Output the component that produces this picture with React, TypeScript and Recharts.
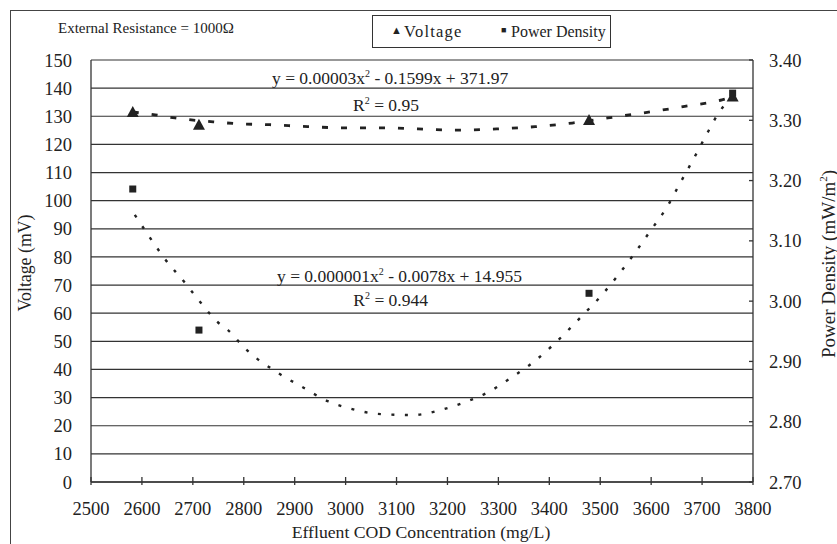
import React from 'react';
import { ComposedChart, XAxis, YAxis, CartesianGrid, Scatter, Line } from 'recharts';

// measured points
const codX = [2582, 2712, 3478, 3760];
const voltage = [131.5, 127, 128.7, 137];
const powerDensity = [3.186, 2.952, 3.013, 3.345];

// trendlines
const voltTrendX = [2582, 2626, 2665, 2740, 2793, 2851, 2926, 2999, 3073, 3142, 3219, 3297, 3372, 3445, 3515, 3592, 3666, 3739, 3760];
const voltTrend = [131.5, 130.5, 129.4, 128.0, 127.3, 127.0, 126.3, 125.9, 125.9, 125.5, 125.1, 125.5, 126.3, 127.6, 129.4, 131.4, 133.5, 135.8, 136.9];
const powerTrendX = [2586, 2616, 2647, 2683, 2714, 2749, 2769, 2802, 2867, 2914, 2965, 3013, 3062, 3132, 3185, 3230, 3280, 3327, 3372, 3407, 3466, 3503, 3535, 3568, 3598, 3631, 3657, 3682, 3706, 3731, 3761];
const powerTrend = [3.143, 3.105, 3.068, 3.032, 2.999, 2.965, 2.952, 2.922, 2.881, 2.858, 2.834, 2.821, 2.813, 2.811, 2.819, 2.831, 2.849, 2.874, 2.901, 2.927, 2.977, 3.010, 3.043, 3.080, 3.116, 3.156, 3.196, 3.234, 3.272, 3.310, 3.342];

const xTicks = [2500, 2600, 2700, 2800, 2900, 3000, 3100, 3200, 3300, 3400, 3500, 3600, 3700, 3800];
const leftTicks = [0, 10, 20, 30, 40, 50, 60, 70, 80, 90, 100, 110, 120, 130, 140, 150];
const rightTicks = [2.7, 2.8, 2.9, 3.0, 3.1, 3.2, 3.3, 3.4];

const FONT = "'Liberation Serif', Tinos, 'Times New Roman', Times, 'DejaVu Serif', 'Noto Serif', serif";
const INK = '#222';
const TICK_FS = 18.5;

const voltData = codX.map((x, i) => ({ x, y: voltage[i] }));
const powerData = codX.map((x, i) => ({ x, y: powerDensity[i] }));
const voltTrendData = voltTrendX.map((x, i) => ({ x, y: voltTrend[i] }));
const powerTrendData = powerTrendX.map((x, i) => ({ x, y: powerTrend[i] }));

const Triangle = (props: any) => {
  const { cx, cy } = props;
  return <polygon points={`${cx},${cy - 6} ${cx - 6},${cy + 5} ${cx + 6},${cy + 5}`} fill={INK} />;
};

const Square = (props: any) => {
  const { cx, cy } = props;
  return <rect x={cx - 3.5} y={cy - 3.5} width={7} height={7} fill={INK} />;
};

// x ticks cross the axis line
const XTick = (props: any) => {
  const { x, y, payload } = props;
  return (
    <g>
      <line x1={x} x2={x} y1={y - 25} y2={y - 17} stroke="#333" strokeWidth={1.3} />
      <text x={x} y={y} dy="0.71em" textAnchor="middle" fill={INK} fontSize={TICK_FS} style={{ fontFamily: FONT }}>
        {payload.value}
      </text>
    </g>
  );
};

const abs = (left: number, top: number, extra: React.CSSProperties = {}): React.CSSProperties => ({
  position: 'absolute',
  left,
  top,
  whiteSpace: 'nowrap',
  lineHeight: 1,
  ...extra,
});

const tickStyle = { fill: INK, fontSize: TICK_FS, style: { fontFamily: FONT } };
const sup = { fontSize: 10, lineHeight: 0 };

export default function App() {
  return (
    <div
      style={{
        position: 'fixed',
        left: 0,
        top: 0,
        width: 837,
        height: 544,
        overflow: 'hidden',
        background: '#fff',
        fontFamily: FONT,
        color: INK,
      }}
    >
      {/* outer frame, cut off at right and bottom */}
      <div style={{ position: 'absolute', left: 10, top: 10, width: 900, height: 600, borderLeft: '1px solid #444', borderTop: '1px solid #444' }} />

      <div style={{ position: 'absolute', left: 0, top: 0 }}>
        <ComposedChart width={837} height={544} margin={{ top: 60, right: 24, bottom: 22, left: 41 }} style={{ fontFamily: FONT }}>
          <CartesianGrid yAxisId="left" horizontal vertical={false} stroke="#333" strokeWidth={1.2} horizontalValues={leftTicks} />
          <XAxis
            type="number"
            dataKey="x"
            domain={[2500, 3800]}
            ticks={xTicks}
            height={40}
            tickLine={false}
            tickSize={0}
            tickMargin={20}
            tick={<XTick />}
            axisLine={{ stroke: '#333', strokeWidth: 1.3 }}
            allowDataOverflow
          />
          <YAxis
            yAxisId="left"
            type="number"
            dataKey="y"
            domain={[0, 150]}
            ticks={leftTicks}
            width={50}
            tickLine={false}
            tickSize={0}
            tickMargin={19}
            tick={tickStyle}
            axisLine={{ stroke: '#333', strokeWidth: 1.3 }}
            allowDataOverflow
          />
          <YAxis
            yAxisId="right"
            orientation="right"
            type="number"
            dataKey="y"
            domain={[2.7, 3.4]}
            ticks={rightTicks}
            tickFormatter={(v: number) => v.toFixed(2)}
            width={60}
            tickSize={-4}
            tickMargin={20}
            tickLine={{ stroke: '#333', strokeWidth: 1.3 }}
            tick={tickStyle}
            axisLine={{ stroke: '#333', strokeWidth: 1.3 }}
            allowDataOverflow
          />
          <Line
            yAxisId="left"
            data={voltTrendData}
            dataKey="y"
            type="monotone"
            stroke={INK}
            strokeWidth={2.8}
            strokeDasharray="6 13"
            dot={false}
            activeDot={false}
            isAnimationActive={false}
          />
          <Line
            yAxisId="right"
            data={powerTrendData}
            dataKey="y"
            type="monotone"
            stroke={INK}
            strokeWidth={2.4}
            strokeDasharray="3 10.5"
            dot={false}
            activeDot={false}
            isAnimationActive={false}
          />
          <Scatter yAxisId="left" data={voltData} shape={<Triangle />} isAnimationActive={false} />
          <Scatter yAxisId="right" data={powerData} shape={<Square />} isAnimationActive={false} />
        </ComposedChart>
      </div>

      <div style={abs(58, 21, { fontSize: 15 })}>External Resistance = 1000Ω</div>

      {/* legend */}
      <div style={{ position: 'absolute', left: 372, top: 15, width: 237, height: 31, border: '1px solid #333', background: '#fff' }}>
        <span style={abs(18, 9, { fontSize: 11 })}>▲</span>
        <span style={abs(31, 8, { fontSize: 16.5, letterSpacing: 1.2 })}>Voltage</span>
        <span style={abs(128, 10, { fontSize: 9 })}>■</span>
        <span style={abs(138, 8, { fontSize: 16 })}>Power Density</span>
      </div>

      {/* trendline equations */}
      <div style={abs(272, 70, { fontSize: 17.5 })}>
        y = 0.00003x<sup style={sup}>2</sup> - 0.1599x + 371.97
      </div>
      <div style={abs(0, 97, { fontSize: 17.5, width: 419, textAlign: 'right' })}>
        R<sup style={sup}>2</sup> = 0.95
      </div>
      <div style={abs(277, 268, { fontSize: 17.5 })}>
        y = 0.000001x<sup style={sup}>2</sup> - 0.0078x + 14.955
      </div>
      <div style={abs(0, 292, { fontSize: 17.5, width: 428, textAlign: 'right' })}>
        R<sup style={sup}>2</sup> = 0.944
      </div>

      {/* axis titles */}
      <div style={abs(421, 533, { fontSize: 17.7, transform: 'translate(-50%, -50%)' })}>
        Effluent COD Concentration (mg/L)
      </div>
      <div style={abs(26, 263, { fontSize: 17.8, transform: 'translate(-50%, -50%) rotate(-90deg)' })}>
        Voltage (mV)
      </div>
      <div style={abs(828, 264, { fontSize: 19, transform: 'translate(-50%, -50%) rotate(-90deg)' })}>
        Power Density (mW/m<sup style={{ fontSize: 11, lineHeight: 0 }}>2</sup>)
      </div>
    </div>
  );
}
